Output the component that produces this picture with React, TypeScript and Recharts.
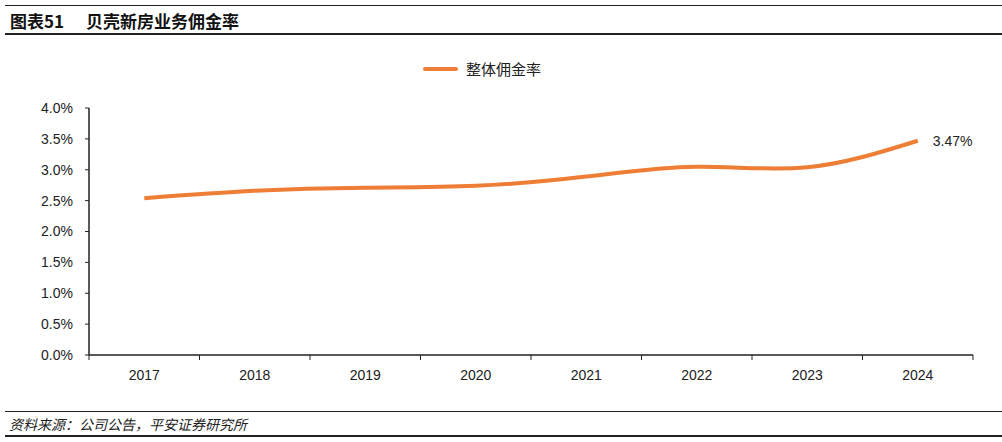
import { Line, LineChart, XAxis, YAxis, LabelList } from "recharts";

const years = ["2017", "2018", "2019", "2020", "2021", "2022", "2023", "2024"];
const commissionRate = [2.54, 2.66, 2.71, 2.74, 2.89, 3.05, 3.04, 3.47];
const yTicks = [0, 0.5, 1, 1.5, 2, 2.5, 3, 3.5, 4];

const data = years.map((year, i) => ({ year, rate: commissionRate[i] }));

const ORANGE = "#EE7D35";
const NUM_FONT = "'Liberation Sans', Arial, 'Noto Sans CJK SC', sans-serif";
const CJK_FONT = "'Noto Sans CJK SC', 'Liberation Sans', sans-serif";
const X_TICK_GAP = 15;

function LastLabel(props: any) {
  const { x, y, index, value } = props;
  if (index !== commissionRate.length - 1) return null;
  return (
    <text x={x + 15} y={y + 5} fontSize={14} fill="#222" fontFamily={NUM_FONT}>
      {value.toFixed(2)}%
    </text>
  );
}

// year label plus small tick marks at the category boundaries
function YearTick(props: any) {
  const { x, y, payload, index, visibleTicksCount, width } = props;
  const half = width / visibleTicksCount / 2;
  const axisY = y - X_TICK_GAP;
  return (
    <g>
      <line x1={x - half} x2={x - half} y1={axisY} y2={axisY + 5} stroke="#222" />
      {index === visibleTicksCount - 1 && (
        <line x1={x + half} x2={x + half} y1={axisY} y2={axisY + 5} stroke="#222" />
      )}
      <text x={x} y={y} dy="0.71em" textAnchor="middle" fontSize={14} fill="#222" fontFamily={NUM_FONT}>
        {payload.value}
      </text>
    </g>
  );
}

export default function App() {
  return (
    <div style={{ position: "absolute", left: 0, top: 0, width: 1002, height: 442, background: "#fff", fontFamily: CJK_FONT }}>
      <div style={{ position: "absolute", left: 5, right: 0, top: 5, height: 0, borderTop: "1.5px solid #222" }} />
      <div style={{ position: "absolute", left: 10, top: 10, fontSize: 17, fontWeight: 700, color: "#111", lineHeight: "22px" }}>
        <span>图表51</span>
        <span style={{ marginLeft: 22 }}>贝壳新房业务佣金率</span>
      </div>
      <div style={{ position: "absolute", left: 5, right: 0, top: 33, height: 0, borderTop: "2px solid #222" }} />

      <div style={{ position: "absolute", left: 0, top: 0 }}>
        <LineChart width={1002} height={442} data={data} margin={{ top: 108, right: 29, bottom: 57, left: 29 }}>
          <XAxis
            dataKey="year"
            scale="band"
            tickLine={false}
            tickSize={0}
            tickMargin={X_TICK_GAP}
            axisLine={{ stroke: "#222", strokeWidth: 1.5 }}
            tick={YearTick}
            height={30}
          />
          <YAxis
            domain={[0, 4]}
            ticks={yTicks}
            tickFormatter={(v: number) => `${v.toFixed(1)}%`}
            axisLine={{ stroke: "#222", strokeWidth: 1.5 }}
            tickLine={{ stroke: "#222" }}
            tickSize={4}
            tickMargin={12}
            width={60}
            tick={{ fontSize: 14, fill: "#222", fontFamily: NUM_FONT }}
          />
          <Line
            type="natural"
            dataKey="rate"
            stroke={ORANGE}
            strokeWidth={4}
            dot={false}
            activeDot={false}
            isAnimationActive={false}
          >
            <LabelList dataKey="rate" content={LastLabel} />
          </Line>
        </LineChart>
      </div>

      <div style={{ position: "absolute", left: 423, top: 58, display: "flex", alignItems: "center" }}>
        <div style={{ width: 35, height: 4, background: ORANGE, borderRadius: 2 }} />
        <span style={{ marginLeft: 8, fontSize: 15, color: "#222", lineHeight: "22px" }}>整体佣金率</span>
      </div>

      <div style={{ position: "absolute", left: 5, right: 0, top: 411, height: 0, borderTop: "1.5px solid #222" }} />
      <div style={{ position: "absolute", left: 9, top: 414, fontSize: 14, fontStyle: "italic", color: "#222", lineHeight: "20px" }}>
        资料来源：公司公告，平安证券研究所
      </div>
      <div style={{ position: "absolute", left: 5, right: 0, top: 435, height: 0, borderTop: "2px solid #222" }} />
    </div>
  );
}
